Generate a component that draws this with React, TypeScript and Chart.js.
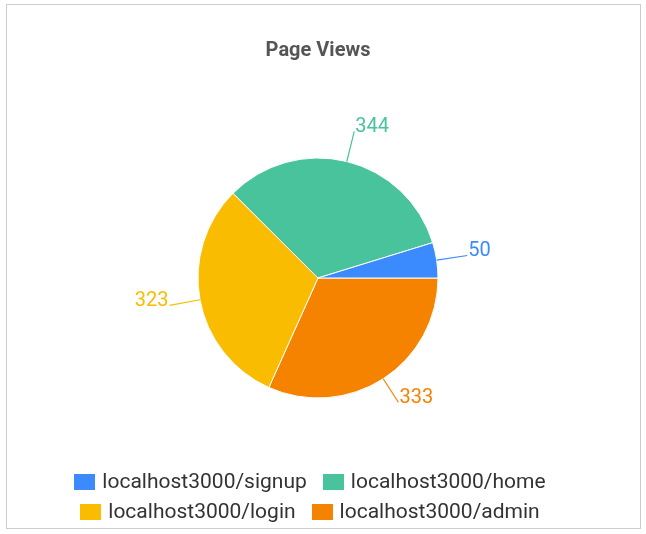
import React, { useEffect, useRef } from "react";
import { Chart, registerables } from "chart.js";

Chart.register(...registerables);

// Data in clockwise drawing order starting at 3 o'clock
const labels = ["localhost3000/admin", "localhost3000/login", "localhost3000/home", "localhost3000/signup"];
const values = [333, 323, 344, 50];
const colors = ["#f58300", "#f9bc00", "#48c39c", "#3b8bff"];
// Legend order (rows of two), as indices into the arrays above
const legendRows = [
  [3, 2],
  [1, 0],
];
const chartTitle = "Page Views";

const FONT = "Roboto, 'Noto Sans', sans-serif";

const borderPlugin = {
  id: "frameBorder",
  beforeDraw(chart: any) {
    const ctx = chart.ctx;
    ctx.save();
    ctx.fillStyle = "#ffffff";
    ctx.fillRect(0, 0, chart.width, chart.height);
    ctx.strokeStyle = "#cccccc";
    ctx.lineWidth = 1;
    ctx.strokeRect(6.5, 4.5, 634, 524);
    ctx.restore();
  },
};

const outLabelPlugin = {
  id: "outLabels",
  afterDatasetsDraw(chart: any) {
    const ctx = chart.ctx;
    const meta = chart.getDatasetMeta(0);
    const data = chart.data.datasets[0].data as number[];
    const cols = chart.data.datasets[0].backgroundColor as string[];
    ctx.save();
    meta.data.forEach((arc: any, i: number) => {
      const { x, y, startAngle, endAngle, outerRadius } = arc.getProps(
        ["x", "y", "startAngle", "endAngle", "outerRadius"],
        true
      );
      const mid = (startAngle + endAngle) / 2;
      const c = Math.cos(mid);
      const s = Math.sin(mid);
      const ext = s > 0.3 ? 28 : 31;
      const x1 = x + outerRadius * c;
      const y1 = y + outerRadius * s;
      const x2 = x + (outerRadius + ext) * c;
      const y2 = y + (outerRadius + ext) * s;
      ctx.strokeStyle = cols[i];
      ctx.lineWidth = 1.2;
      ctx.beginPath();
      ctx.moveTo(x1, y1);
      ctx.lineTo(x2, y2);
      ctx.stroke();
      ctx.fillStyle = cols[i];
      ctx.font = `20px ${FONT}`;
      ctx.textBaseline = "alphabetic";
      if (c >= 0) {
        ctx.textAlign = "left";
        ctx.fillText(String(data[i]), x2 + 1, y2 + 1);
      } else {
        ctx.textAlign = "right";
        ctx.fillText(String(data[i]), x2 - 1, y2 + 1);
      }
    });
    ctx.restore();
  },
};

const legendPlugin = {
  id: "customLegend",
  afterDraw(chart: any) {
    const ctx = chart.ctx;
    const cols = chart.data.datasets[0].backgroundColor as string[];
    const labs = chart.data.labels as string[];
    const boxW = 21;
    const boxH = 16;
    const gapText = 7;
    const gapItem = 16;
    const centerX = 310;
    const rowBase = [488, 518];
    ctx.save();
    ctx.font = `21px ${FONT}`;
    ctx.textBaseline = "alphabetic";
    ctx.textAlign = "left";
    legendRows.forEach((row, r) => {
      const widths = row.map((i) => boxW + gapText + ctx.measureText(labs[i]).width);
      const total = widths.reduce((a, b) => a + b, 0) + gapItem * (row.length - 1);
      let x = centerX - total / 2;
      row.forEach((i, k) => {
        const base = rowBase[r];
        ctx.fillStyle = cols[i];
        ctx.fillRect(Math.round(x), base - 14, boxW, boxH);
        ctx.fillStyle = "#333333";
        ctx.fillText(labs[i], x + boxW + gapText, base);
        x += widths[k] + gapItem;
      });
    });
    ctx.restore();
  },
};

export default function App() {
  const ref = useRef<HTMLCanvasElement | null>(null);
  useEffect(() => {
    if (!ref.current) return;
    const chart = new Chart(ref.current, {
      type: "pie",
      data: {
        labels,
        datasets: [
          {
            data: values,
            backgroundColor: colors,
            borderColor: "#ffffff",
            borderWidth: 1,
          },
        ],
      },
      options: {
        responsive: false,
        animation: false,
        rotation: 90,
        radius: 120,
        layout: { padding: { left: 0, right: 10, top: 0, bottom: 73 } },
        plugins: {
          title: {
            display: true,
            text: chartTitle,
            color: "#555555",
            font: { family: FONT, size: 20, weight: "bold" },
            padding: { top: 39, bottom: 32 },
          },
          legend: { display: false },
          tooltip: { enabled: false },
        },
      },
      plugins: [borderPlugin, outLabelPlugin, legendPlugin],
    });
    return () => chart.destroy();
  }, []);
  return (
    <div style={{ position: "fixed", left: 0, top: 0, width: 646, height: 534 }}>
      <canvas ref={ref} width={646} height={534} style={{ display: "block" }} />
    </div>
  );
}
